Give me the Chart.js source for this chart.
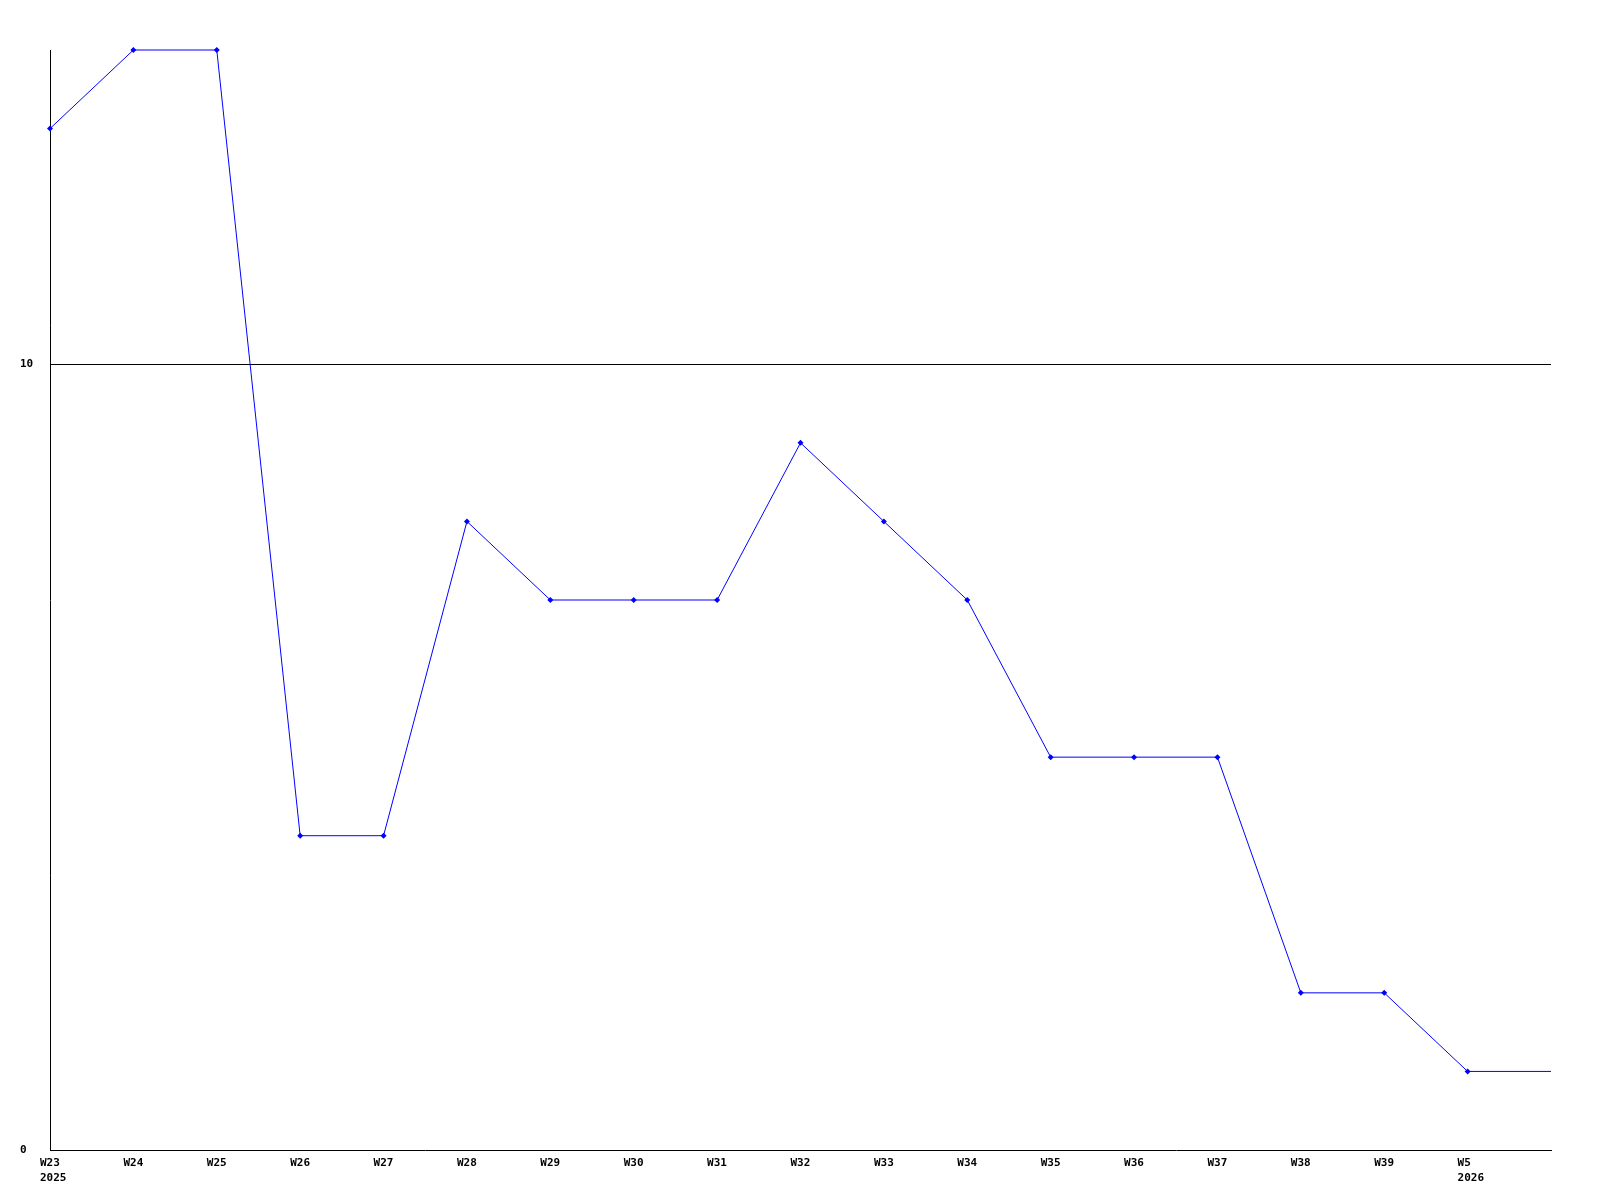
<!DOCTYPE html>
<html>
<head>
<meta charset="utf-8">
<script src="https://cdn.jsdelivr.net/npm/chart.js@4/dist/chart.umd.min.js"></script>
<style>
  html, body { margin: 0; padding: 0; background: #fff; }
  #wrap { width: 1600px; height: 1200px; }
</style>
</head>
<body>
<div id="wrap"><canvas id="weekChart" width="1600" height="1200"></canvas></div>
<script>
// weekly counts, last slot has no label / marker
const weeks = [
  ["W23", "2025"], "W24", "W25", "W26", "W27", "W28", "W29", "W30", "W31",
  "W32", "W33", "W34", "W35", "W36", "W37", "W38", "W39", ["W5", "2026"], ""
];
const counts = [13, 14, 14, 4, 4, 8, 7, 7, 7, 9, 8, 7, 5, 5, 5, 2, 2, 1, 1];
const yTicks = [0, 10];

const tickFont = { family: "'DejaVu Sans Mono', monospace", size: 11, weight: "bold", lineHeight: 15 / 11 };

const ctx = document.getElementById("weekChart").getContext("2d");
new Chart(ctx, {
  type: "line",
  data: {
    labels: weeks,
    datasets: [
      {
        data: counts,
        borderColor: "#0000ff",
        backgroundColor: "#0000ff",
        borderWidth: 1,
        tension: 0,
        clip: false,
        pointStyle: "rectRot",
        pointRadius: counts.map((v, i) => (i === counts.length - 1 ? 0 : 3)),
        pointBorderWidth: 0,
      },
    ],
  },
  options: {
    responsive: false,
    animation: false,
    devicePixelRatio: 1,
    layout: { padding: { left: 20, top: 50, right: 49, bottom: 0 } },
    plugins: { legend: { display: false }, tooltip: { enabled: false } },
    scales: {
      x: {
        offset: false,
        grid: { display: false, drawTicks: false },
        border: { display: true, color: "#000", width: 1 },
        ticks: {
          color: "#000",
          font: tickFont,
          autoSkip: false,
          maxRotation: 0,
          minRotation: 0,
          align: "start",
          labelOffset: -10,
          padding: 6,
        },
        afterFit: (scale) => { scale.height = 50; },
      },
      y: {
        min: 0,
        max: 14,
        grid: {
          drawTicks: false,
          color: (c) => (c.tick && c.tick.value === 10 ? "#000" : "rgba(0,0,0,0)"),
          lineWidth: 1,
        },
        border: { display: true, color: "#000", width: 1 },
        ticks: {
          color: "#000",
          font: tickFont,
          crossAlign: "far",
          padding: 0,
        },
        afterBuildTicks: (scale) => { scale.ticks = yTicks.map((v) => ({ value: v })); },
        afterFit: (scale) => { scale.width = 30; },
      },
    },
  },
});
</script>
</body>
</html>
